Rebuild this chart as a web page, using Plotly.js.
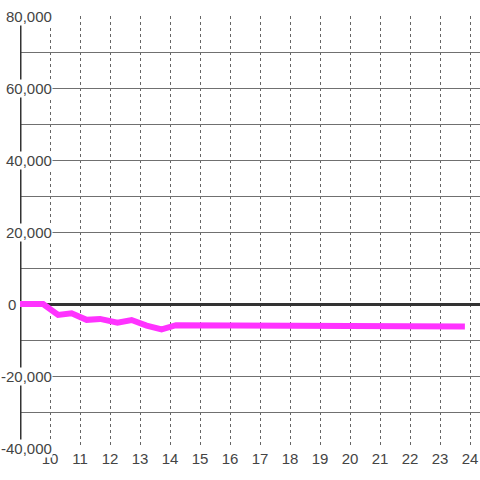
<!DOCTYPE html>
<html>
<head>
<meta charset="utf-8">
<script src="https://cdn.plot.ly/plotly-3.0.1.min.js"></script>
<style>
html,body{margin:0;padding:0;background:#fff;}
#chart{width:480px;height:480px;}
</style>
</head>
<body>
<div id="chart"></div>
<script>
// Data
const xValues = [9, 9.77, 10.27, 10.72, 11.22, 11.67, 12.25, 12.72, 13.22, 13.72, 14.2, 17.9, 18.1, 23.83];
const yValues = [0, 0, -3050, -2600, -4400, -4150, -5200, -4450, -6000, -7050, -5900, -5900, -6250, -6250];
const xTickVals = [10, 11, 12, 13, 14, 15, 16, 17, 18, 19, 20, 21, 22, 23, 24];
const yTickVals = [80000, 60000, 40000, 20000, 0, -20000, -40000];
const yTickLabels = ['80,000', '60,000', '40,000', '20,000', '0', '-20,000', '-40,000'];

const FONT = 'Liberation Sans, Arial, sans-serif';

const annotations = yTickVals.map((v, i) => ({
  xref: 'paper', yref: 'y',
  x: 0, y: v,
  text: yTickLabels[i],
  showarrow: false,
  xanchor: v === 0 ? 'left' : 'right',
  xshift: v === 0 ? -13 : 33,
  yanchor: 'middle',
  bgcolor: '#ffffff',
  borderpad: 0,
  font: {family: FONT, size: 15, color: '#444444'}
}));

const trace = {
  x: xValues, y: yValues,
  type: 'scatter', mode: 'lines',
  line: {color: '#ff33ff', width: 6},
  cliponaxis: false,
  hoverinfo: 'skip'
};

const layout = {
  width: 480, height: 480,
  margin: {l: 20, r: 0, t: 16, b: 32, pad: 0},
  paper_bgcolor: '#ffffff',
  plot_bgcolor: '#ffffff',
  showlegend: false,
  xaxis: {
    range: [9, 24.3333],
    tickmode: 'array', tickvals: xTickVals,
    showgrid: true, gridcolor: '#666666', gridwidth: 1, griddash: '3px,3px',
    zeroline: false, showline: false, ticks: '',
    tickfont: {family: FONT, size: 15, color: '#444444'},
    fixedrange: true
  },
  yaxis: {
    range: [-40000, 80000],
    tickmode: 'linear', tick0: 0, dtick: 10000,
    showticklabels: false,
    showgrid: true, gridcolor: '#707070', gridwidth: 1,
    zeroline: true, zerolinecolor: '#333333', zerolinewidth: 3,
    showline: false, ticks: '',
    fixedrange: true
  },
  shapes: [{
    type: 'line', xref: 'x', yref: 'y',
    x0: 9, x1: 9, y0: -40000, y1: 80000,
    line: {color: '#333333', width: 3},
    layer: 'between'
  }],
  annotations: annotations
};

Plotly.newPlot('chart', [trace], layout, {staticPlot: true, displayModeBar: false});
</script>
</body>
</html>
